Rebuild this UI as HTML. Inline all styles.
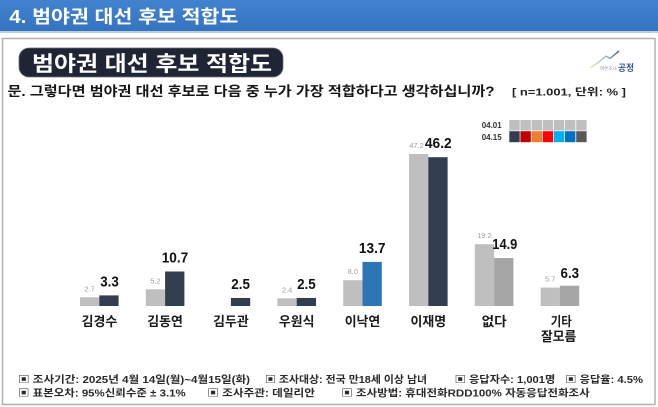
<!DOCTYPE html>
<html><head><meta charset="utf-8">
<style>
html,body{margin:0;padding:0;background:#fff;}
svg{display:block;}
text{font-family:"Liberation Sans","Noto Sans CJK KR",sans-serif;}
</style></head>
<body>
<svg width="658" height="407" viewBox="0 0 658 407" xmlns="http://www.w3.org/2000/svg">
<defs>
<linearGradient id="hb" x1="0" y1="0" x2="0" y2="1">
<stop offset="0" stop-color="#4283cf"/><stop offset="1" stop-color="#3573bf"/>
</linearGradient>
<linearGradient id="lg" x1="0" y1="0" x2="1" y2="0">
<stop offset="0" stop-color="#e6ec9a"/><stop offset="0.5" stop-color="#9fb7d6"/><stop offset="1" stop-color="#2f4f86"/>
</linearGradient>
</defs>
<rect x="0" y="0" width="658" height="407" fill="#fff"/>
<!-- header -->
<rect x="0" y="0" width="658" height="31" fill="url(#hb)"/>
<rect x="0" y="31" width="658" height="2" fill="#b9cfe9"/>
<text x="9.3" y="23" font-size="18" font-weight="bold" fill="#fff" textLength="229" lengthAdjust="spacingAndGlyphs">4. 범야권 대선 후보 적합도</text>
<!-- box -->
<rect x="2.5" y="38.5" width="652.5" height="366" fill="#fff" stroke="#b0b0b0" stroke-width="1.5"/>
<!-- title pill -->
<rect x="19" y="48" width="264" height="29" rx="10" ry="10" fill="#1f2535" stroke="#6a6f7a" stroke-width="0.8"/>
<text x="32" y="71" font-size="21" font-weight="bold" fill="#fff" textLength="240" lengthAdjust="spacingAndGlyphs">범야권 대선 후보 적합도</text>
<!-- logo -->
<polyline points="590,68 599,62 606,56 610,58.5 619,51" fill="none" stroke="url(#lg)" stroke-width="1.3"/>
<text x="600" y="70" font-size="4.5" fill="#8a9bb3">여론조사</text>
<text x="618" y="71" font-size="9" font-weight="bold" fill="#2f5597" textLength="16" lengthAdjust="spacingAndGlyphs">공정</text>
<!-- question -->
<text x="7.5" y="96" font-size="13.5" font-weight="bold" fill="#151515" textLength="487" lengthAdjust="spacingAndGlyphs">문. 그렇다면 범야권 대선 후보로 다음 중 누가 가장 적합하다고 생각하십니까?</text>
<text x="512" y="95.5" font-size="10" font-weight="bold" fill="#222" textLength="114" lengthAdjust="spacingAndGlyphs">[ n=1.001, 단위: % ]</text>
<!-- legend -->
<text x="481.7" y="128" font-size="8.5" font-weight="bold" fill="#333" textLength="20" lengthAdjust="spacingAndGlyphs">04.01</text>
<text x="481.7" y="140" font-size="8.5" font-weight="bold" fill="#333" textLength="20" lengthAdjust="spacingAndGlyphs">04.15</text>
<g>
<rect x="509.3" y="120" width="10.4" height="10.5" fill="#bfbfbf"/>
<rect x="520.4" y="120" width="10.4" height="10.5" fill="#bfbfbf"/>
<rect x="531.6" y="120" width="10.4" height="10.5" fill="#bfbfbf"/>
<rect x="542.7" y="120" width="10.4" height="10.5" fill="#bfbfbf"/>
<rect x="553.9" y="120" width="10.4" height="10.5" fill="#bfbfbf"/>
<rect x="565.0" y="120" width="10.4" height="10.5" fill="#bfbfbf"/>
<rect x="576.2" y="120" width="10.4" height="10.5" fill="#bfbfbf"/>
<rect x="509.3" y="131.2" width="10.4" height="11" fill="#323e50"/>
<rect x="520.4" y="131.2" width="10.4" height="11" fill="#c00000"/>
<rect x="531.6" y="131.2" width="10.4" height="11" fill="#ed7d31"/>
<rect x="542.7" y="131.2" width="10.4" height="11" fill="#ff0000"/>
<rect x="553.9" y="131.2" width="10.4" height="11" fill="#00b0f0"/>
<rect x="565.0" y="131.2" width="10.4" height="11" fill="#0070c0"/>
<rect x="576.2" y="131.2" width="10.4" height="11" fill="#595959"/>
</g>
<!-- bars -->
<g>
<rect x="80" y="297.3" width="19.3" height="8.7" fill="#bfbfbf"/>
<rect x="99.3" y="295.4" width="19.3" height="10.6" fill="#323e50"/>
<rect x="145.8" y="289.3" width="19.3" height="16.7" fill="#bfbfbf"/>
<rect x="165.1" y="271.5" width="19.3" height="34.5" fill="#323e50"/>
<rect x="230.9" y="297.95" width="19.3" height="8.05" fill="#323e50"/>
<rect x="277.4" y="298.3" width="19.3" height="7.7" fill="#bfbfbf"/>
<rect x="296.7" y="297.95" width="19.3" height="8.05" fill="#323e50"/>
<rect x="343.2" y="280.2" width="19.3" height="25.8" fill="#bfbfbf"/>
<rect x="362.5" y="261.9" width="19.3" height="44.1" fill="#2e75b6"/>
<rect x="409" y="154" width="19.3" height="152" fill="#bfbfbf"/>
<rect x="428.3" y="157.2" width="19.3" height="148.8" fill="#323e50"/>
<rect x="474.8" y="244.2" width="19.3" height="61.8" fill="#bfbfbf"/>
<rect x="494.1" y="258" width="19.3" height="48" fill="#a6a6a6"/>
<rect x="540.6" y="287.6" width="19.3" height="18.4" fill="#bfbfbf"/>
<rect x="559.9" y="285.7" width="19.3" height="20.3" fill="#a6a6a6"/>
</g>
<!-- small labels -->
<g font-size="7.5" fill="#a0a0a0" text-anchor="middle">
<text x="89.65" y="291.3">2.7</text>
<text x="155.45" y="283.3">5.2</text>
<text x="287.05" y="292.3">2.4</text>
<text x="352.85" y="274.2">8.0</text>
<text x="416.5" y="148">47.2</text>
<text x="484.45" y="238.2">19.2</text>
<text x="550.25" y="281.6">5.7</text>
</g>
<!-- bold labels -->
<g font-size="15" font-weight="bold" fill="#111" text-anchor="middle">
<text x="109.5" y="286.6" textLength="18.6" lengthAdjust="spacingAndGlyphs">3.3</text>
<text x="175" y="262.5" textLength="26.6" lengthAdjust="spacingAndGlyphs">10.7</text>
<text x="240.6" y="289" textLength="18.6" lengthAdjust="spacingAndGlyphs">2.5</text>
<text x="306.4" y="289" textLength="18.6" lengthAdjust="spacingAndGlyphs">2.5</text>
<text x="372.2" y="252.9" textLength="26.6" lengthAdjust="spacingAndGlyphs">13.7</text>
<text x="438.3" y="147.8" textLength="26.8" lengthAdjust="spacingAndGlyphs">46.2</text>
<text x="504.8" y="249" textLength="25" lengthAdjust="spacingAndGlyphs">14.9</text>
<text x="569.8" y="277.8" textLength="18.6" lengthAdjust="spacingAndGlyphs">6.3</text>
</g>
<!-- category labels -->
<g font-size="13" font-weight="bold" fill="#1a1a1a" text-anchor="middle">
<text x="99.4" y="326" textLength="35.6" lengthAdjust="spacingAndGlyphs">김경수</text>
<text x="165.1" y="326" textLength="35.6" lengthAdjust="spacingAndGlyphs">김동연</text>
<text x="230.9" y="326" textLength="35.6" lengthAdjust="spacingAndGlyphs">김두관</text>
<text x="296.7" y="326" textLength="35.6" lengthAdjust="spacingAndGlyphs">우원식</text>
<text x="362.5" y="326" textLength="35.6" lengthAdjust="spacingAndGlyphs">이낙연</text>
<text x="428.3" y="326" textLength="35.6" lengthAdjust="spacingAndGlyphs">이재명</text>
<text x="494.1" y="326" textLength="25" lengthAdjust="spacingAndGlyphs">없다</text>
<text x="561.2" y="326" textLength="21" lengthAdjust="spacingAndGlyphs">기타</text>
<text x="558.6" y="341" textLength="35.3" lengthAdjust="spacingAndGlyphs">잘모름</text>
</g>
<!-- footer -->
<g font-size="10" font-weight="bold" fill="#2a2a2a">
<text x="18" y="383" textLength="232" lengthAdjust="spacingAndGlyphs">▣ 조사기간: 2025년 4월 14일(월)~4월15일(화)</text>
<text x="265" y="383" textLength="162" lengthAdjust="spacingAndGlyphs">▣ 조사대상: 전국 만18세 이상 남녀</text>
<text x="454.7" y="383" textLength="100.6" lengthAdjust="spacingAndGlyphs">▣ 응답자수: 1,001명</text>
<text x="565.3" y="383" textLength="77.7" lengthAdjust="spacingAndGlyphs">▣ 응답율: 4.5%</text>
<text x="18" y="396.3" textLength="167.7" lengthAdjust="spacingAndGlyphs">▣ 표본오차: 95%신뢰수준 ± 3.1%</text>
<text x="207.3" y="396.3" textLength="107.7" lengthAdjust="spacingAndGlyphs">▣ 조사주관: 데일리안</text>
<text x="341.3" y="396.3" textLength="248.4" lengthAdjust="spacingAndGlyphs">▣ 조사방법: 휴대전화RDD100% 자동응답전화조사</text>
</g>
</svg>
</body></html>
